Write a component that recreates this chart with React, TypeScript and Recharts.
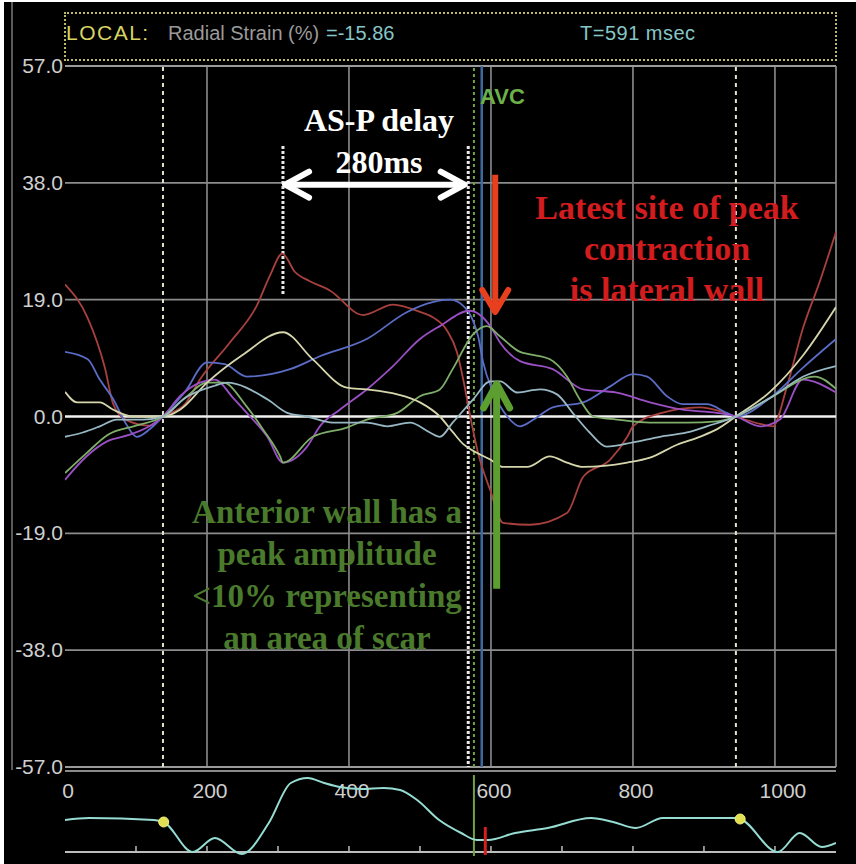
import React from 'react'
import { LineChart, Line, XAxis, YAxis, ReferenceLine, ReferenceDot } from 'recharts'

// time axis (ms) and strain axis (%)
const xTicks = [0, 200, 400, 600, 800, 1000]
const yTicks = [-57, -38, -19, 0, 19, 38, 57]
const gridY = [38, 19, -19, -38]
const gridX = [200, 400, 600, 800, 1000]
const dashedMarkers = [138, 945]

// segment curves
const redMs = [0, 32, 56, 68, 85, 120, 138, 169, 190, 232, 270, 289, 306, 324, 345, 373, 420, 462, 500, 520, 538, 552, 561, 570, 582, 599, 617, 655, 707, 730, 768, 792, 800, 838, 894, 925, 945, 979, 997, 1017, 1039, 1063, 1086]
const redVal = [21.5, 16, 8, 2, -0.5, -1.5, 0, 2, 6, 12, 18, 23, 26.5, 23.5, 22, 20.5, 16.5, 18.2, 17, 16, 14, 10.5, 6, 0.5, -6, -12, -17.3, -17.6, -15.7, -9.8, -7, -3.3, -1.6, 0.5, 1.5, 0.8, 0, -1.2, -1.6, 4.9, 14.2, 21.9, 30]

const blueMs = [0, 32, 49, 68, 85, 101, 120, 138, 169, 200, 225, 256, 317, 359, 425, 482, 518, 542, 561, 575, 582, 589, 603, 623, 641, 660, 687, 730, 768, 800, 820, 848, 870, 904, 932, 945, 993, 1040, 1086]
const blueVal = [10.5, 9.3, 6, 2.8, -1, -3.3, -2, 0, 4, 8.8, 8.5, 6.5, 7.7, 9.8, 12.6, 17, 18.6, 19, 18, 15.5, 13, 8.8, 4, 0, -1.6, -0.5, 1.5, 2.3, 4.9, 6.9, 6.5, 3.3, 2, 2, 0.6, 0, 3, 8, 12.6]

const purpleMs = [0, 30, 60, 90, 120, 138, 162, 190, 211, 237, 256, 285, 307, 341, 359, 387, 425, 462, 500, 528, 570, 599, 613, 641, 687, 730, 777, 824, 870, 918, 945, 979, 1007, 1039, 1086]
const purpleVal = [-10.3, -6.5, -4, -3, -1.5, 0, 3.3, 5.5, 6, 3, 0.6, -3.3, -7.5, -4.9, -1.6, 1.1, 4.4, 8.2, 12.6, 14.7, 17.2, 14.7, 12, 9, 7.7, 4.4, 3.9, 2.3, 1.1, 0.6, 0, -1.6, -0.5, 6, 3.9]

const greenMs = [0, 30, 60, 100, 138, 169, 200, 223, 256, 279, 303, 307, 349, 397, 425, 468, 500, 528, 546, 575, 594, 613, 641, 655, 683, 707, 725, 744, 777, 824, 876, 918, 945, 993, 1056, 1086]
const greenVal = [-9.2, -6, -3, -1.5, 0, 3, 5.5, 5.5, 1.6, -2.1, -6.5, -7.5, -3.3, -1.8, -0.5, 0.6, 3.3, 4.4, 7.7, 13.4, 14.7, 13, 10.5, 10.1, 9.3, 6.5, 2.8, 0, -0.5, -1, -1, -0.8, 0, 3, 6.5, 4.5]

const creamMs = [0, 17, 49, 68, 96, 138, 162, 200, 250, 307, 349, 397, 425, 468, 500, 528, 546, 561, 580, 599, 617, 651, 683, 707, 730, 792, 824, 862, 894, 918, 945, 993, 1040, 1086]
const creamVal = [4, 2.3, 2.3, 1.1, 0, 0, 1.1, 5.5, 10, 13.7, 9.3, 4.7, 4.4, 3.6, 2.3, 0, -2.5, -4.5, -5.9, -7, -8.2, -8.2, -6.5, -7.5, -8.2, -7.5, -6.7, -4.6, -3.3, -2.1, 0, 4, 10, 17.8]

const tealMs = [0, 25, 49, 73, 110, 138, 169, 211, 228, 285, 313, 341, 377, 425, 454, 486, 514, 528, 546, 575, 599, 613, 637, 669, 693, 715, 739, 763, 800, 838, 876, 904, 945, 993, 1040, 1086]
const tealVal = [-3.3, -2.6, -1.6, -0.5, -0.5, 0, 3, 5, 5.5, 2.8, 0.6, 0, -1, -1, -1.6, -1, -2.6, -3.3, -1, 2.8, 5.7, 5.7, 3.9, 4.4, 3.6, 0.6, -2.6, -4.9, -4.2, -3.3, -2.6, -1.6, 0, 3, 6.5, 8.2]

// ECG strip under the plot
const ecgMs = [0, 34, 125, 139, 180, 211, 249, 287, 318, 342, 365, 387, 418, 449, 472, 496, 527, 558, 580, 596, 634, 680, 741, 772, 804, 842, 942, 951, 1004, 1035, 1066, 1086]
const ecgVal = [32, 34, 32, 30, 0, 14, -2, 29, 69, 74, 69, 65, 63, 64, 62, 52, 32, 19, 12, 12, 19, 24, 34, 30, 24, 34, 34, 33, 0, 19, 5, 9]
const ecgTicks = [100, 200, 300, 400, 500, 600, 700, 800, 900, 1000]

// events
const avcMs = 576
const cursorMs = 587
const delayStartMs = 307
const delayEndMs = 568

const toPoints = (ms: number[], val: number[]) => ms.map((t, i) => ({ t, v: val[i] }))

const series = [
  { name: 'red', color: '#a8413e', data: toPoints(redMs, redVal) },
  { name: 'blue', color: '#5a6cc6', data: toPoints(blueMs, blueVal) },
  { name: 'purple', color: '#9a50c4', data: toPoints(purpleMs, purpleVal) },
  { name: 'green', color: '#7fae6a', data: toPoints(greenMs, greenVal) },
  { name: 'cream', color: '#d6d6ac', data: toPoints(creamMs, creamVal) },
  { name: 'teal', color: '#98b8c4', data: toPoints(tealMs, tealVal) },
]
const ecgData = toPoints(ecgMs, ecgVal)

const labelFont = "'Liberation Sans', Arial, sans-serif"
const serif = "'Liberation Serif', 'Times New Roman', serif"

function YTick({ x, y, payload }: any) {
  return (
    <text x={x} y={y} dy={7} textAnchor="end" fill="#cfcfcf" fontSize={21} fontFamily={labelFont}>
      {Number(payload.value).toFixed(1)}
    </text>
  )
}

function XTick({ x, y, payload }: any) {
  return (
    <text x={x} y={y} dy={29} dx={payload.value === 1000 ? 8 : 3} textAnchor="middle" fill="#cfcfcf" fontSize={21} fontFamily={labelFont}>
      {payload.value}
    </text>
  )
}

function makeArrow(color: string, width: number, headLen: number, headHalf: number, both = false) {
  return (props: any) => {
    const { x1, y1, x2, y2 } = props
    const len = Math.hypot(x2 - x1, y2 - y1) || 1
    const ux = (x2 - x1) / len
    const uy = (y2 - y1) / len
    const head = (tx: number, ty: number, dx: number, dy: number) =>
      `${tx - dx * headLen - dy * headHalf},${ty - dy * headLen + dx * headHalf} ${tx},${ty} ${tx - dx * headLen + dy * headHalf},${ty - dy * headLen - dx * headHalf}`
    return (
      <g>
        <line x1={x1 + (both ? ux * 2 : 0)} y1={y1 + (both ? uy * 2 : 0)} x2={x2 - ux * 2} y2={y2 - uy * 2} stroke={color} strokeWidth={width} />
        <polyline points={head(x2, y2, ux, uy)} fill="none" stroke={color} strokeWidth={width} strokeLinecap="round" strokeLinejoin="round" />
        {both && (
          <polyline points={head(x1, y1, -ux, -uy)} fill="none" stroke={color} strokeWidth={width} strokeLinecap="round" strokeLinejoin="round" />
        )}
      </g>
    )
  }
}

const headerText = { position: 'absolute' as const, top: 21, fontFamily: labelFont, fontSize: 20, lineHeight: '24px', whiteSpace: 'nowrap' as const }

export default function App() {
  return (
    <div style={{ position: 'fixed', left: 0, top: 0, width: 856, height: 864, background: '#fff', overflow: 'hidden' }}>
      <div style={{ position: 'absolute', left: 4, top: 2, right: 0, bottom: 0, background: '#000' }} />
      <div style={{ position: 'absolute', left: 11, top: 2, width: 2, height: 768, background: '#5a5a5a' }} />

      {/* header strip */}
      <div
        style={{
          position: 'absolute',
          left: 64,
          top: 12,
          width: 773,
          height: 49,
          boxSizing: 'border-box',
          border: '2px dotted #bdb96c',
        }}
      />
      <div style={{ ...headerText, left: 66, color: '#d8d462', fontSize: 21, letterSpacing: 1.5 }}>LOCAL:</div>
      <div style={{ ...headerText, left: 168, color: '#9a9a9a' }}>Radial Strain (%)</div>
      <div style={{ ...headerText, left: 326, color: '#86c6c6' }}>=-15.86</div>
      <div style={{ ...headerText, left: 580, color: '#86c6c6', letterSpacing: 0.5 }}>T=591 msec</div>

      <div style={{ position: 'absolute', left: 0, top: 0 }}>
        <LineChart width={856} height={864} margin={{ top: 66, right: 20, bottom: 67, left: 5 }}>
          <XAxis
            type="number"
            dataKey="t"
            domain={[0, 1086]}
            ticks={xTicks}
            allowDataOverflow
            height={30}
            axisLine={false}
            tickLine={false}
            tickSize={0}
            tick={<XTick />}
          />
          <YAxis
            type="number"
            domain={[-57, 57]}
            ticks={yTicks}
            allowDataOverflow
            width={60}
            axisLine={false}
            tickLine={false}
            tickSize={0}
            tickMargin={2}
            tick={<YTick />}
          />
          {gridY.map((v) => (
            <ReferenceLine key={`gy${v}`} y={v} stroke="#8c8c8c" strokeWidth={1.6} />
          ))}
          {gridX.map((v) => (
            <ReferenceLine key={`gx${v}`} x={v} stroke="#8c8c8c" strokeWidth={1.6} />
          ))}
          <ReferenceLine y={57} stroke="#9a9a9a" strokeWidth={2} />
          <ReferenceLine y={-57} stroke="#9a9a9a" strokeWidth={2} />
          <ReferenceLine x={1086} stroke="#9a9a9a" strokeWidth={1.5} />
          {dashedMarkers.map((v) => (
            <ReferenceLine key={`dm${v}`} x={v} stroke="#e6e2c8" strokeWidth={2} strokeDasharray="4 4" />
          ))}
          <ReferenceLine x={avcMs} stroke="#6ea444" strokeWidth={2} strokeDasharray="3 3" />
          <ReferenceLine x={cursorMs} stroke="#3c6aa0" strokeWidth={2.5} />
          <ReferenceLine
            segment={[{ x: delayEndMs, y: 44 }, { x: delayEndMs, y: -57 }]}
            stroke="#e8e8e8"
            strokeWidth={3}
            strokeDasharray="3 2"
          />
          <ReferenceLine
            segment={[{ x: delayStartMs, y: 44 }, { x: delayStartMs, y: 19.8 }]}
            stroke="#e8e8e8"
            strokeWidth={3}
            strokeDasharray="3 2"
          />
          <ReferenceLine y={0} stroke="#f2f2f2" strokeWidth={2.5} />

          {series.map((s) => (
            <Line
              key={s.name}
              data={s.data}
              dataKey="v"
              type="monotone"
              stroke={s.color}
              strokeWidth={1.8}
              dot={false}
              activeDot={false}
              isAnimationActive={false}
            />
          ))}

          <ReferenceLine
            segment={[{ x: 310, y: 37.7 }, { x: 563, y: 37.7 }]}
            shape={makeArrow('#ffffff', 6, 24, 13, true)}
          />
          <ReferenceLine
            segment={[{ x: 606, y: 39.3 }, { x: 606, y: 17 }]}
            shape={makeArrow('#e8401e', 6, 22, 13)}
          />
          <ReferenceLine
            segment={[{ x: 608, y: -28 }, { x: 608, y: 5.3 }]}
            shape={makeArrow('#5c9e30', 7, 24, 13)}
          />
        </LineChart>
      </div>

      <div style={{ position: 'absolute', left: 65, top: 770, width: 771, height: 2, background: '#8a8a8a' }} />

      {/* ECG strip */}
      <div style={{ position: 'absolute', left: 0, top: 775 }}>
        <LineChart width={856} height={81} margin={{ top: 0, right: 20, bottom: 0, left: 65 }}>
          <XAxis type="number" dataKey="t" domain={[0, 1086]} hide allowDataOverflow />
          <YAxis type="number" domain={[-4, 77]} hide allowDataOverflow />
          <ReferenceLine y={0} stroke="#bdbdbd" strokeWidth={2} />
          {ecgTicks.map((t) => (
            <ReferenceLine key={`et${t}`} segment={[{ x: t, y: 0 }, { x: t, y: 6 }]} stroke="#bdbdbd" strokeWidth={1.5} />
          ))}
          <ReferenceLine x={avcMs} stroke="#6ea444" strokeWidth={2} />
          <Line
            data={ecgData}
            dataKey="v"
            type="monotone"
            stroke="#96dcd2"
            strokeWidth={2}
            dot={false}
            activeDot={false}
            isAnimationActive={false}
          />
          <ReferenceLine segment={[{ x: 592, y: -3 }, { x: 592, y: 25 }]} stroke="#d42020" strokeWidth={3} />
          <ReferenceDot x={139} y={30} r={5} fill="#e2e052" stroke="#f4f27a" strokeWidth={1} />
          <ReferenceDot x={951} y={33} r={5} fill="#e2e052" stroke="#f4f27a" strokeWidth={1} />
        </LineChart>
      </div>

      {/* annotations */}
      <div style={{ position: 'absolute', left: 480, top: 86, fontFamily: labelFont, fontSize: 22, fontWeight: 'bold', color: '#6db04a', lineHeight: '22px' }}>
        AVC
      </div>
      <div
        style={{
          position: 'absolute',
          left: 229,
          top: 99,
          width: 300,
          textAlign: 'center',
          fontFamily: serif,
          fontWeight: 'bold',
          fontSize: 32,
          lineHeight: '42px',
          color: '#ffffff',
        }}
      >
        AS-P delay
        <br />
        280ms
      </div>
      <div
        style={{
          position: 'absolute',
          left: 517,
          top: 187,
          width: 300,
          textAlign: 'center',
          fontFamily: serif,
          fontWeight: 'bold',
          fontSize: 34,
          lineHeight: '41px',
          color: '#d21c1e',
        }}
      >
        Latest site of peak
        <br />
        contraction
        <br />
        is lateral wall
      </div>
      <div
        style={{
          position: 'absolute',
          left: 167,
          top: 491,
          width: 320,
          textAlign: 'center',
          fontFamily: serif,
          fontWeight: 'bold',
          fontSize: 33,
          lineHeight: '42px',
          color: '#4a7a2c',
        }}
      >
        Anterior wall has a
        <br />
        peak amplitude
        <br />
        &lt;10% representing
        <br />
        an area of scar
      </div>
    </div>
  )
}
